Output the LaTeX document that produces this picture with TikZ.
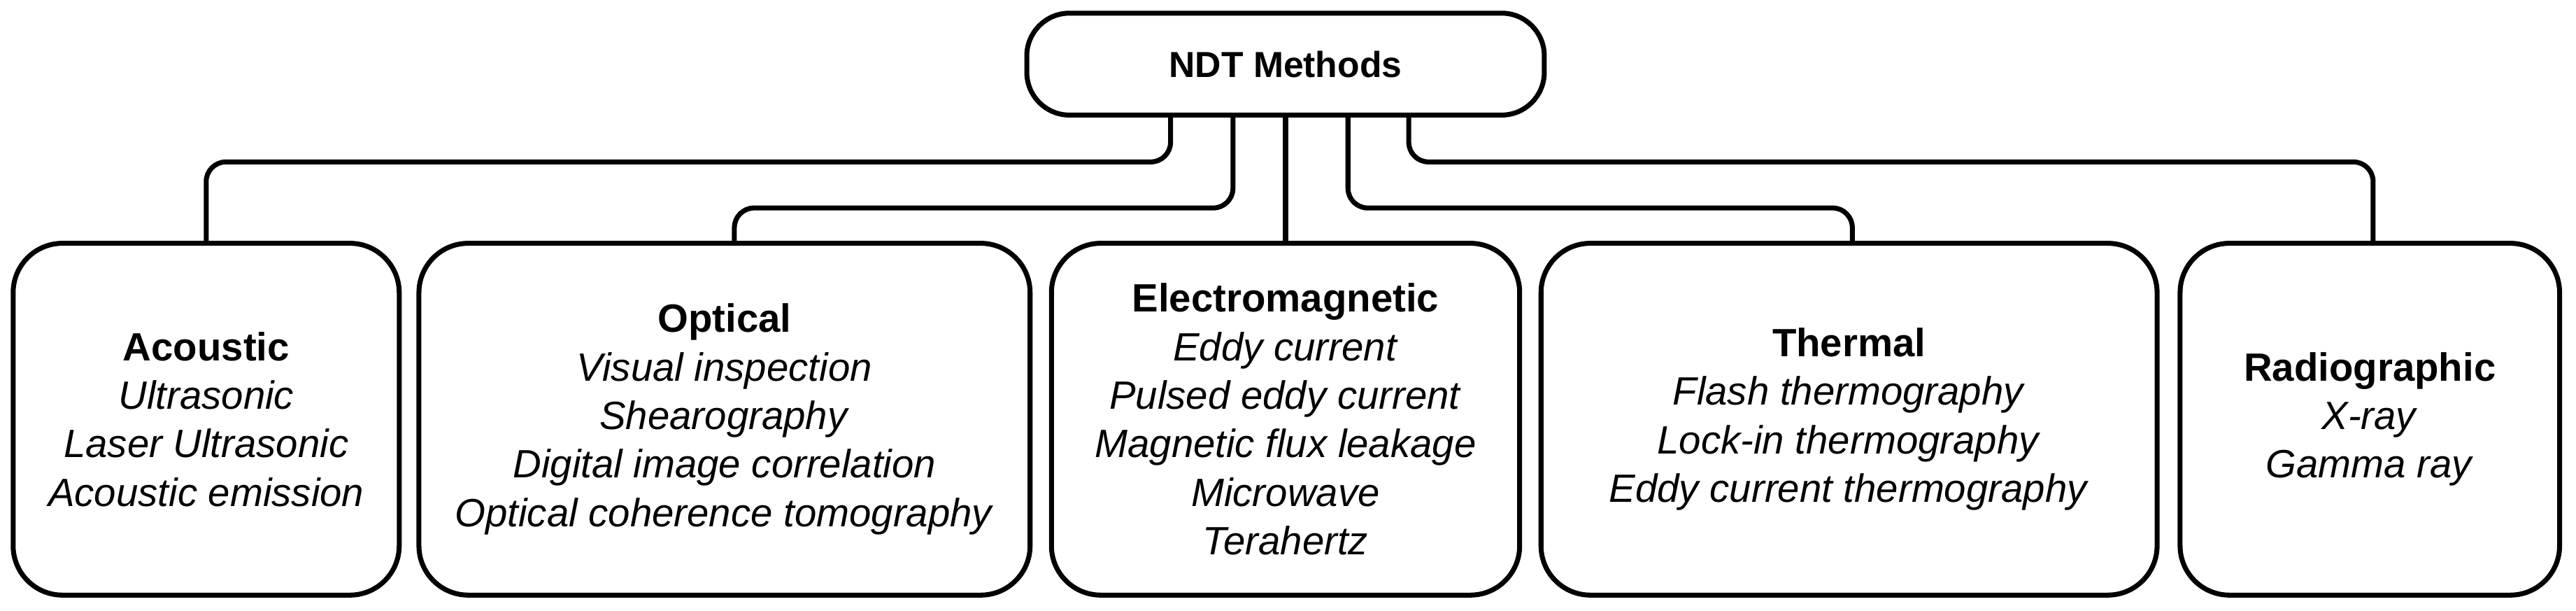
\documentclass[tikz,border=0pt]{standalone}
\usepackage{fontspec}
\setmainfont{Liberation Sans}
\tikzset{every picture/.style={line width=3pt}}
\tikzset{
  box/.style={draw, rounded corners=30pt, align=center, font=\fontsize{24}{29.5}\selectfont, inner sep=0pt},
  link/.style={rounded corners=12pt}
}
\begin{document}
\begin{tikzpicture}[x=1pt,y=1pt,yscale=-1,xscale=1]
\useasboundingbox (0,0) rectangle (1568,371.25);

% top node
\node[box, minimum width=315pt, minimum height=62pt, rounded corners=26pt, font=\fontsize{22}{26}\selectfont] (top) at (782.5,39) {\textbf{NDT Methods}};

% method boxes
\node[box, minimum width=235pt, minimum height=214pt] (ac) at (125.5,255) {\textbf{Acoustic}\\\textit{Ultrasonic}\\\textit{Laser Ultrasonic}\\\textit{Acoustic emission}};
\node[box, minimum width=372pt, minimum height=214pt] (op) at (441,255) {\textbf{Optical}\\\textit{Visual inspection}\\\textit{Shearography}\\\textit{Digital image correlation}\\\textit{Optical coherence tomography}};
\node[box, minimum width=285pt, minimum height=214pt] (em) at (782.5,255) {\textbf{Electromagnetic}\\\textit{Eddy current}\\\textit{Pulsed eddy current}\\\textit{Magnetic flux leakage}\\\textit{Microwave}\\\textit{Terahertz}};
\node[box, minimum width=375pt, minimum height=214pt] (th) at (1125.5,255) {\textbf{Thermal}\\\textit{Flash thermography}\\\textit{Lock-in thermography}\\\textit{Eddy current thermography}};
\node[box, minimum width=231pt, minimum height=214pt] (ra) at (1442.5,255) {\textbf{Radiographic}\\\textit{X-ray}\\\textit{Gamma ray}};

% connectors
\draw[link] ([xshift=-70pt]top.south) -- ++(0,27) -| (ac.north);
\draw[link] ([xshift=-32pt]top.south) -- ++(0,55) -| ([xshift=6pt]op.north);
\draw (top.south) -- (em.north);
\draw[link] ([xshift=38pt]top.south) -- ++(0,55) -| ([xshift=2pt]th.north);
\draw[link] ([xshift=75pt]top.south) -- ++(0,27) -| ([xshift=2pt]ra.north);
\end{tikzpicture}
\end{document}
